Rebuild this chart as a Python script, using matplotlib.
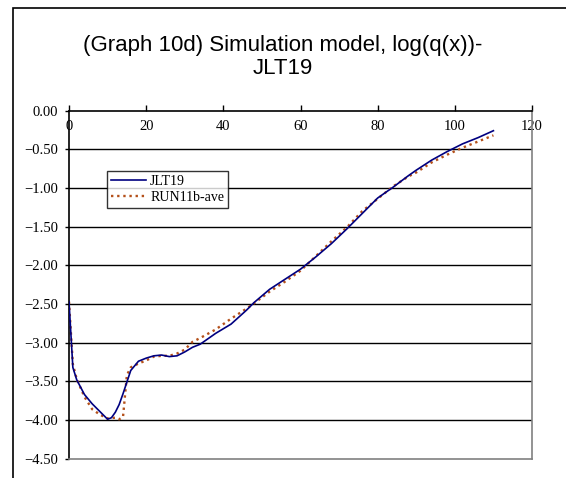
import matplotlib
matplotlib.use("Agg")
import matplotlib.pyplot as plt
import matplotlib.patches as patches
from matplotlib.ticker import FuncFormatter, MultipleLocator

# ages and log mortality values
ages_jlt = [0, 1, 2, 4, 6, 8, 10, 11, 12, 13, 14, 15, 16, 18, 20, 22, 24, 26, 28, 30,
            32, 34, 38, 42, 46, 48, 52, 56, 60, 64, 68, 72, 76, 80, 84, 88, 90, 94,
            98, 102, 106, 110]
jlt19 = [-2.47, -3.32, -3.48, -3.67, -3.79, -3.89, -3.99, -3.97, -3.90, -3.80, -3.66,
         -3.51, -3.36, -3.24, -3.20, -3.17, -3.16, -3.18, -3.17, -3.12, -3.06, -3.02,
         -2.88, -2.76, -2.58, -2.48, -2.31, -2.18, -2.05, -1.89, -1.72, -1.53, -1.33,
         -1.13, -0.99, -0.84, -0.77, -0.64, -0.53, -0.43, -0.35, -0.26]

ages_run = [0, 1, 2, 4, 6, 8, 10, 12, 13, 14, 15, 16, 18, 20, 22, 24, 26, 28, 30, 32,
            34, 38, 42, 46, 48, 52, 56, 60, 64, 68, 72, 76, 80, 84, 88, 90, 94, 98,
            102, 106, 110]
run11b_ave = [-2.47, -3.28, -3.47, -3.70, -3.86, -3.93, -3.98, -3.97, -3.99, -3.96,
              -3.42, -3.32, -3.27, -3.23, -3.18, -3.17, -3.17, -3.14, -3.09, -2.99,
              -2.94, -2.83, -2.69, -2.56, -2.49, -2.34, -2.21, -2.07, -1.88, -1.69,
              -1.51, -1.30, -1.14, -0.98, -0.85, -0.80, -0.67, -0.57, -0.48, -0.40,
              -0.32]

x_ticks = [0, 20, 40, 60, 80, 100, 120]

fig = plt.figure(figsize=(5.66, 4.78), dpi=100)
fig.patch.set_facecolor("white")

# outer chart frame (runs off the right and bottom edges)
frame = patches.Rectangle((12.5 / 566, -0.1), 1.2, 1 - 8 / 478 + 0.1,
                          transform=fig.transFigure, fill=False,
                          edgecolor="black", linewidth=1.2)
fig.patches.append(frame)

fig.text(0.5, 1 - 57 / 478, "(Graph 10d) Simulation model, log(q(x))-\nJLT19",
         ha="center", va="center", fontsize=16, family="Liberation Sans",
         linespacing=1.1)

ax = fig.add_axes([69 / 566, 1 - 458.7 / 478, (532 - 69) / 566, (458.7 - 110.6) / 478])
ax.set_xlim(0, 120)
ax.set_ylim(-4.5, 0)

ax.plot(ages_jlt, jlt19, color="#000080", linewidth=1.2, label="JLT19", zorder=3)
ax.plot(ages_run, run11b_ave, color="#B4501A", linewidth=1.7,
        linestyle=(0, (1, 1.6)), label="RUN11b-ave", zorder=2)

# horizontal gridlines
for v in [-0.5, -1.0, -1.5, -2.0, -2.5, -3.0, -3.5, -4.0]:
    ax.axhline(v, color="black", linewidth=1.0, zorder=1)

for s in ["left", "top"]:
    ax.spines[s].set_color("black")
    ax.spines[s].set_linewidth(1.2)
for s in ["right", "bottom"]:
    ax.spines[s].set_color("#808080")
    ax.spines[s].set_linewidth(1.2)

ax.set_xticks(x_ticks)
ax.xaxis.set_ticks_position("top")
ax.tick_params(axis="x", direction="out", length=4, width=1, top=True, bottom=False,
               labeltop=True, labelbottom=False, pad=-20, labelsize=10.5)
ax.yaxis.set_major_locator(MultipleLocator(0.5))
ax.yaxis.set_major_formatter(FuncFormatter(
    lambda v, p: "0.00" if abs(v) < 1e-9 else f"{v:.2f}".replace("-", "\u2212")))
ax.tick_params(axis="y", direction="out", length=3, width=1, pad=5, labelsize=10.5)
for lab in ax.get_xticklabels() + ax.get_yticklabels():
    lab.set_family("Liberation Serif")

leg = ax.legend(loc="upper left", bbox_to_anchor=(107 / 566, 1 - 171 / 478),
                bbox_transform=fig.transFigure, frameon=True, fancybox=False,
                prop={"family": "Liberation Serif", "size": 10}, handlelength=2.5,
                handletextpad=0.3, borderpad=0.3, labelspacing=0.2,
                borderaxespad=0)
leg.get_frame().set_edgecolor("black")
leg.get_frame().set_linewidth(1.0)

fig.savefig("out.png", dpi=100, facecolor="white")
